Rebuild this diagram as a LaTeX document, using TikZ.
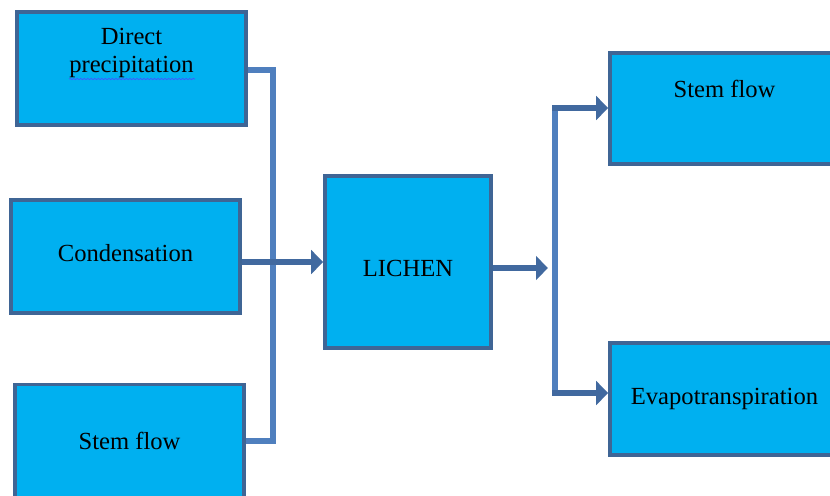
\documentclass[tikz,border=0pt]{standalone}
\usepackage{fontspec}
\setmainfont{Liberation Serif}
\usetikzlibrary{arrows.meta,positioning,decorations.pathmorphing}

\definecolor{boxfill}{HTML}{00B0F0}
\definecolor{boxline}{HTML}{3F6595}
\definecolor{pipe}{HTML}{4F7FBE}
\definecolor{pipedark}{HTML}{41699F}

\tikzset{
  box/.style={rectangle,draw=boxline,fill=boxfill,line width=3pt,minimum width=6.87cm,minimum height=3.39cm,font=\fontsize{21}{24}\selectfont},
  boxtext/.style={inner sep=0pt,align=center,font=\fontsize{21}{24}\selectfont},
  bus/.style={draw=pipe,line width=5.6pt},
  flow/.style={draw=pipedark,line width=5.1pt,-{Triangle[length=0.36cm,width=0.7cm]}}
}

\begin{document}
\begin{tikzpicture}[x=0.03cm,y=-0.03cm]
  \useasboundingbox (0,0) rectangle (830,495);

  % individual boxes
  \node[box] (direct) at (131.5,68.5) {};
  \node[box] (cond) at (125.5,256.5) {};
  \node[box] (stemin) at (129.5,441) {};
  \node[box,minimum width=4.98cm,minimum height=5.16cm] (lichen) at (408,262) {};
  \node[box,minimum height=3.33cm] (stemout) at (724.5,108.5) {};
  \node[box,minimum height=3.36cm] (evap) at (724.5,399) {};

  % box texts
  \node[boxtext,below=0.53cm of direct.north] (directtxt) {Direct\\precipitation};
  \node[boxtext,yshift=0.1cm] (condtxt) at (cond.center) {Condensation};
  \node[boxtext] (stemintxt) at (stemin.center) {Stem flow};
  \node[boxtext,yshift=-0.18cm] (lichentxt) at (lichen.center) {LICHEN};
  \node[boxtext,below=0.85cm of stemout.north] (stemouttxt) {Stem flow};
  \node[boxtext] (evaptxt) at (evap.center) {Evapotranspiration};
  \draw[blue!70!white,line width=0.5pt,decorate,decoration={snake,amplitude=0.6pt,segment length=3pt}] (directtxt.south west) ++(0,1) -- ++(126,0);

  % inflow
  \coordinate (ltop) at (273,70);
  \coordinate (lbot) at (273,441);
  \draw[bus] (direct.east |- ltop) -- (ltop) -- (lbot) -- (stemin.east |- lbot);
  \draw[flow] (cond.east |- lichen.west) -- (lichen.west);

  % outflow
  \coordinate (lout) at (548,268);
  \coordinate (rtop) at (555,108);
  \coordinate (rbot) at (555,393);
  \draw[flow] (lichen.east |- lout) -- (lout);
  \draw[bus] (rtop) -- (rbot);
  \draw[flow] ([xshift=-0.08cm]rtop) -- (stemout.west |- rtop);
  \draw[flow] ([xshift=-0.08cm]rbot) -- (evap.west |- rbot);
\end{tikzpicture}
\end{document}
